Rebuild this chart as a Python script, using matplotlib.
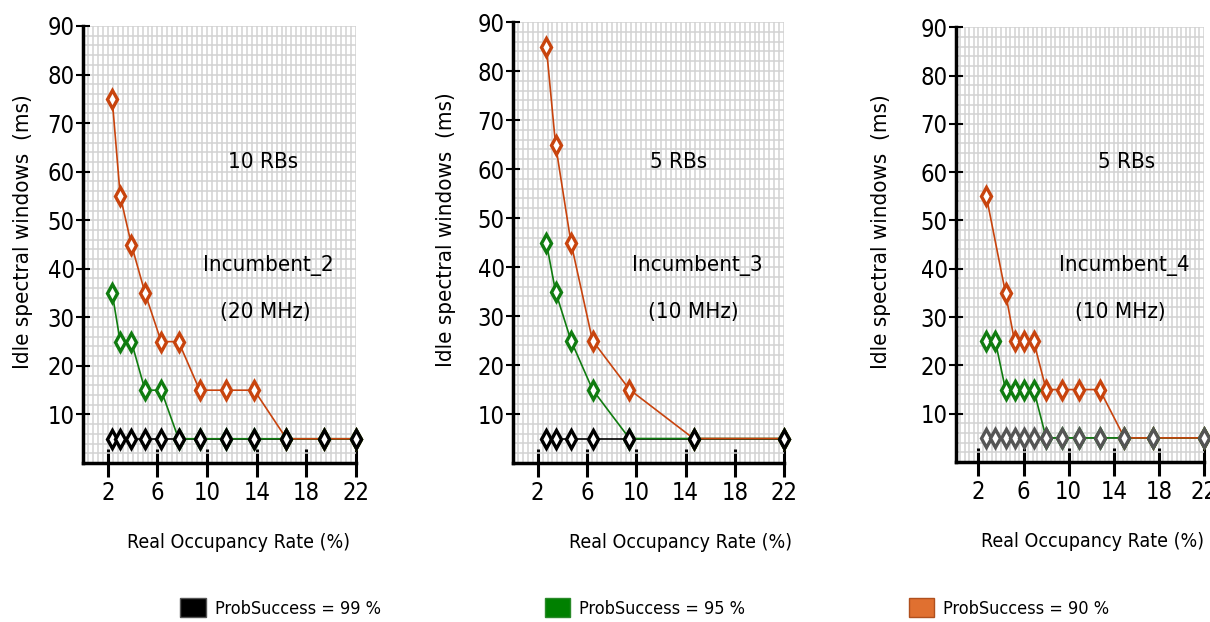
import numpy as np
import matplotlib
matplotlib.use("Agg")
import matplotlib.pyplot as plt
from matplotlib import font_manager as fm
from matplotlib.patches import Patch
from matplotlib.ticker import MultipleLocator


def pick_font():
    # prefer a narrow face if one is installed, otherwise Roboto a bit smaller
    for fam, st in [('Liberation Sans Narrow', 'normal'), ('DejaVu Sans', 'condensed'),
                    ('Roboto Condensed', 'normal'), ('Noto Sans', 'condensed')]:
        try:
            path = fm.findfont(fm.FontProperties(family=fam, stretch=st),
                               fallback_to_default=False)
        except ValueError:
            continue
        if 'Narrow' in path or 'Condensed' in path:
            return fam, st, 1.0
    return 'Roboto', 'normal', 0.85


font_fam, font_st, fscale = pick_font()
plt.rcParams['font.family'] = [font_fam, 'DejaVu Sans']
plt.rcParams['font.stretch'] = font_st

# Real occupancy rate (%) and idle windows (ms) for each incumbent
x_inc2 = [2.35, 3.0, 3.9, 5.0, 6.3, 7.7, 9.4, 11.5, 13.8, 16.4, 19.4, 22.0]
p99_inc2 = [5, 5, 5, 5, 5, 5, 5, 5, 5, 5, 5, 5]
p95_inc2 = [35, 25, 25, 15, 15, 5, 5, 5, 5, 5, 5, 5]
p90_inc2 = [75, 55, 45, 35, 25, 25, 15, 15, 15, 5, 5, 5]

x_inc3 = [2.7, 3.45, 4.7, 6.45, 9.45, 14.65, 22.0]
p99_inc3 = [5, 5, 5, 5, 5, 5, 5]
p95_inc3 = [45, 35, 25, 15, 5, 5, 5]
p90_inc3 = [85, 65, 45, 25, 15, 5, 5]

x_inc4 = [2.7, 3.5, 4.4, 5.2, 6.0, 6.9, 8.0, 9.4, 10.95, 12.75, 14.95, 17.5, 22.0]
p99_inc4 = [5, 5, 5, 5, 5, 5, 5, 5, 5, 5, 5, 5, 5]
p95_inc4 = [25, 25, 15, 15, 15, 15, 5, 5, 5, 5, 5, 5, 5]
x90_inc4 = [2.7, 4.4, 5.2, 6.0, 6.9, 8.0, 9.4, 10.95, 12.75, 14.95, 17.5, 22.0]
p90_inc4 = [55, 35, 25, 25, 25, 15, 15, 15, 15, 5, 5, 5]

x_ticks = [2, 6, 10, 14, 18, 22]
y_ticks = [10, 20, 30, 40, 50, 60, 70, 80, 90]

legend_labels = ['ProbSuccess = 99 %', 'ProbSuccess = 95 %', 'ProbSuccess = 90 %']

c_black = '#000000'
c_green = '#107c10'
c_orange = '#c8440e'

fig = plt.figure(figsize=(12.1, 6.22), dpi=100)

panels = [
    dict(rect=[0.0686, 0.2556, 0.2256, 0.7026],
         x99=x_inc2, y99=p99_inc2, x95=x_inc2, y95=p95_inc2, x90=x_inc2, y90=p90_inc2,
         c99=c_black, rbs='10 RBs', name='Incumbent_2', bw='(20 MHz)',
         txt=[(0.659, 0.689), (0.678, 0.453), (0.667, 0.346)],
         ylab=(-0.183, 0.53), xlab=(0.568, -0.16)),
    dict(rect=[0.424, 0.2556, 0.224, 0.709],
         x99=x_inc3, y99=p99_inc3, x95=x_inc3, y95=p95_inc3, x90=x_inc3, y90=p90_inc3,
         c99=c_black, rbs='5 RBs', name='Incumbent_3', bw='(10 MHz)',
         txt=[(0.609, 0.683), (0.679, 0.449), (0.664, 0.342)],
         ylab=(-0.21, 0.53), xlab=(0.616, -0.159)),
    dict(rect=[0.790, 0.2572, 0.205, 0.699],
         x99=x_inc4, y99=p99_inc4, x95=x_inc4, y95=p95_inc4, x90=x90_inc4, y90=p90_inc4,
         c99='#555555', rbs='5 RBs', name='Incumbent_4', bw='(10 MHz)',
         txt=[(0.69, 0.69), (0.677, 0.453), (0.661, 0.345)],
         ylab=(-0.262, 0.53), xlab=(0.55, -0.162)),
]

for p in panels:
    ax = fig.add_axes(p['rect'])
    ax.set_xlim(0, 22)
    ax.set_ylim(0, 90)

    # lines first (black under green under orange)
    ax.plot(p['x99'], p['y99'], color=p['c99'], lw=1.2, zorder=3, clip_on=False)
    ax.plot(p['x95'], p['y95'], color=c_green, lw=1.2, zorder=4, clip_on=False)
    ax.plot(p['x90'], p['y90'], color=c_orange, lw=1.2, zorder=5, clip_on=False)

    # diamond markers, black on top where they coincide
    mk = dict(marker='d', ms=9, mew=2.4, mfc='white', ls='none', clip_on=False)
    ax.plot(p['x90'], p['y90'], mec=c_orange, zorder=6, **mk)
    ax.plot(p['x95'], p['y95'], mec=c_green, zorder=7, **mk)
    ax.plot(p['x99'], p['y99'], mec=p['c99'], zorder=8, **mk)

    ax.set_xticks(x_ticks)
    ax.set_yticks(y_ticks)
    ax.xaxis.set_minor_locator(MultipleLocator(0.4))
    ax.yaxis.set_minor_locator(MultipleLocator(2))
    ax.grid(True, which='both', color='#d2d2d2', lw=1.1)
    ax.set_axisbelow(True)
    ax.tick_params(axis='x', which='major', direction='inout', length=20, width=2.2,
                   labelsize=17 * fscale, pad=3)
    ax.tick_params(axis='y', which='major', direction='inout', length=10, width=1.5,
                   labelsize=17 * fscale, pad=1)
    ax.tick_params(which='minor', length=0)

    for side in ['top', 'right']:
        ax.spines[side].set_visible(False)
    for side in ['left', 'bottom']:
        ax.spines[side].set_linewidth(2.5)

    ax.set_ylabel('Idle spectral windows  (ms)', fontsize=16 * fscale)
    ax.yaxis.set_label_coords(*p['ylab'])
    ax.set_xlabel('Real Occupancy Rate (%)', fontsize=14 * fscale)
    ax.xaxis.set_label_coords(*p['xlab'])

    for (tx, ty), s in zip(p['txt'], [p['rbs'], p['name'], p['bw']]):
        ax.text(tx, ty, s, transform=ax.transAxes, ha='center', va='center',
                fontsize=16 * fscale)

handles = [Patch(facecolor='#000000', edgecolor='#555555'),
           Patch(facecolor='#008000', edgecolor='#2a8a2a'),
           Patch(facecolor='#e07030', edgecolor='#b0501e')]
fig.legend(handles, legend_labels, loc='center', ncol=3, mode='expand',
           bbox_to_anchor=(0.143, 0.0, 0.78, 0.046), frameon=False, fontsize=13 * fscale,
           handlelength=1.4, handleheight=1.3, handletextpad=0.5, borderaxespad=0)

fig.savefig('out.png', dpi=100)
